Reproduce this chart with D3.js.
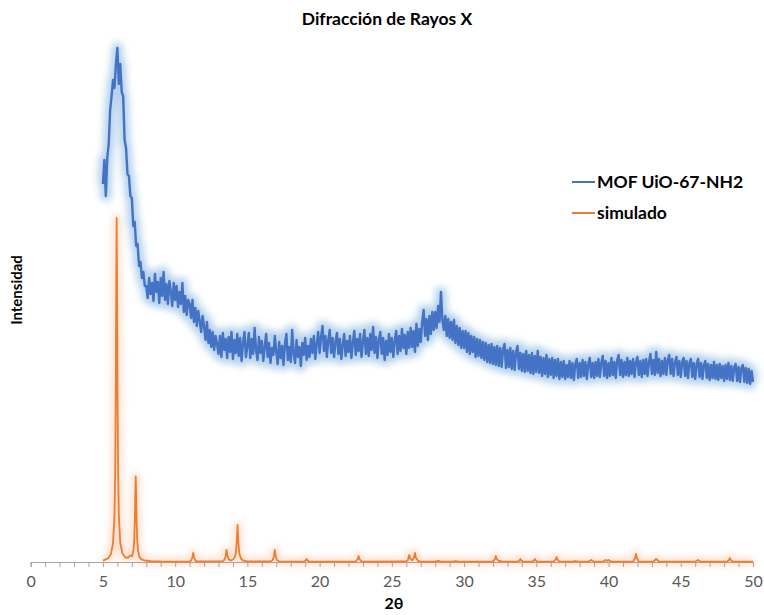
<!DOCTYPE html>
<html>
<head>
<meta charset="utf-8">
<script src="https://cdn.jsdelivr.net/npm/d3@7"></script>
<style>
  body { margin: 0; background: #fff; }
  svg text { font-family: Lato, "Open Sans", sans-serif; }
</style>
</head>
<body>
<svg id="chart" width="764" height="615"></svg>
<script>
// measured sample: 2θ from 5.0 to 50.0, step 0.1 (arbitrary intensity units)
var mofStart = 5.0, mofStep = 0.1;
var mofValues = [
  378, 402, 366, 404, 418, 452, 466, 482, 474, 498,
  514, 478, 498, 470, 466, 422, 414, 388, 386, 366,
  364, 336, 340, 316, 318, 296, 300, 284, 290, 276,
  276, 264, 284, 268, 279, 261, 288, 270, 280, 259,
  284, 266, 290, 262, 278, 258, 281, 270, 256, 279,
  262, 276, 255, 270, 258, 279, 250, 266, 247, 262,
  258, 244, 262, 240, 254, 236, 251, 241, 230, 246,
  236, 222, 240, 219, 232, 215, 230, 212, 226, 218,
  208, 226, 205, 229, 212, 223, 204, 225, 210, 230,
  203, 222, 209, 228, 206, 224, 201, 219, 230, 205,
  216, 229, 204, 223, 208, 234, 212, 202, 225, 209,
  221, 201, 215, 228, 205, 219, 199, 214, 207, 226,
  210, 198, 220, 204, 216, 197, 218, 228, 202, 215,
  200, 232, 208, 199, 222, 205, 215, 196, 219, 207,
  224, 202, 216, 205, 223, 209, 226, 203, 218, 230,
  209, 225, 236, 211, 226, 205, 222, 232, 209, 224,
  205, 220, 229, 208, 223, 203, 217, 228, 206, 221,
  210, 226, 204, 219, 231, 207, 223, 211, 228, 205,
  220, 232, 208, 224, 206, 228, 212, 235, 209, 225,
  204, 222, 230, 208, 224, 202, 221, 207, 228, 210,
  224, 205, 221, 231, 208, 226, 211, 233, 214, 227,
  208, 230, 214, 234, 215, 231, 210, 238, 216, 233,
  220, 240, 252, 226, 243, 222, 246, 228, 250, 232,
  250, 234, 256, 240, 270, 242, 232, 246, 226, 243,
  224, 240, 222, 242, 219, 236, 217, 234, 214, 231,
  214, 231, 210, 229, 208, 226, 210, 225, 205, 223,
  206, 222, 204, 220, 202, 219, 200, 217, 199, 218,
  198, 215, 197, 216, 196, 214, 195, 213, 218, 194,
  212, 195, 214, 193, 211, 192, 210, 216, 193, 209,
  191, 208, 190, 211, 191, 207, 189, 209, 188, 206,
  190, 211, 189, 205, 186, 204, 188, 207, 185, 203,
  187, 204, 184, 202, 186, 203, 183, 200, 185, 201,
  183, 197, 185, 201, 184, 199, 182, 198, 203, 184,
  199, 185, 202, 186, 200, 183, 198, 204, 185, 199,
  184, 200, 186, 203, 185, 199, 206, 186, 201, 184,
  199, 186, 204, 187, 200, 184, 202, 207, 187, 202,
  185, 200, 187, 204, 186, 201, 188, 203, 185, 200,
  205, 187, 201, 185, 202, 188, 203, 186, 200, 208,
  188, 202, 187, 210, 189, 203, 186, 201, 188, 204,
  187, 202, 207, 188, 203, 186, 200, 205, 187, 201,
  185, 200, 204, 186, 201, 184, 199, 203, 185, 199,
  183, 198, 203, 185, 199, 183, 197, 201, 184, 198,
  182, 197, 184, 200, 183, 197, 182, 198, 184, 196,
  181, 197, 183, 199, 182, 196, 181, 195, 198, 181,
  195, 180, 194, 197, 180, 194, 179, 193, 178, 191,
  180
];

// simulated pattern: [2θ, intensity]
var simPoints = [
  [5.0, 1.4], [5.35, 3.6], [5.55, 7.8], [5.70, 19], [5.80, 47], [5.85, 91], [5.89, 172],
  [5.92, 275], [5.95, 344], [5.98, 275], [6.01, 172], [6.05, 91], [6.10, 47], [6.20, 19],
  [6.35, 8.5], [6.55, 4.5], [6.75, 4.5], [6.90, 6.5], [7.02, 5.8], [7.12, 12.6], [7.17, 23],
  [7.21, 43], [7.24, 68.5], [7.27, 85.7], [7.30, 68.5], [7.33, 42.5], [7.37, 23], [7.42, 12.4],
  [7.52, 5.4], [7.67, 2.6], [7.9, 1.5], [8.3, 0.8], [9.0, 0.5], [10.5, 0.4],
  [11.0, 0.6], [11.1, 1.3], [11.19, 4.5], [11.25, 9], [11.31, 4.5], [11.4, 1.3], [11.5, 0.6],
  [13.3, 0.9], [13.41, 2.2], [13.5, 6], [13.56, 12], [13.62, 6.2], [13.71, 2.5], [13.85, 1.5],
  [14.0, 2.5], [14.12, 4.5], [14.2, 9], [14.26, 19], [14.32, 37], [14.38, 19], [14.44, 9],
  [14.55, 3.5], [14.7, 1.5], [15.0, 0.7], [16.6, 0.7], [16.75, 1.7], [16.84, 6], [16.9, 12],
  [16.96, 6], [17.05, 1.7], [17.2, 0.7], [18.9, 0.3], [19.04, 1.5], [19.1, 3], [19.16, 1.5],
  [19.3, 0.3], [22.5, 0.4], [22.64, 3], [22.7, 6], [22.76, 3], [22.9, 0.4],
  [25.95, 0.5], [26.1, 1.5], [26.14, 3.5], [26.2, 7], [26.26, 3.8], [26.4, 1.6], [26.54, 4.6],
  [26.6, 9], [26.66, 4.5], [26.8, 1.2], [27.0, 0.4], [28.0, 0.3], [28.2, 1.2], [28.4, 0.3],
  [29.2, 0.3], [29.4, 1], [29.6, 0.3], [32.0, 0.4], [32.14, 3], [32.2, 6], [32.26, 3],
  [32.4, 0.8], [32.5, 1.2], [32.6, 0.4], [33.7, 0.3], [33.84, 1.5], [33.9, 3], [33.96, 1.5],
  [34.1, 0.3], [34.7, 0.3], [34.84, 1.5], [34.9, 3], [34.96, 1.5], [35.1, 0.3],
  [36.2, 0.3], [36.34, 2.5], [36.4, 5], [36.46, 2.5], [36.6, 0.3], [37.5, 0.3], [37.7, 1],
  [37.9, 0.3], [38.6, 0.3], [38.8, 2], [39.0, 0.3], [39.6, 0.3], [39.8, 2], [39.9, 1],
  [40.0, 2], [40.2, 0.3], [41.7, 0.4], [41.84, 4], [41.9, 8], [41.96, 4], [42.1, 0.4],
  [43.1, 0.3], [43.3, 3], [43.5, 0.3], [46.0, 0.3], [46.2, 2], [46.4, 0.3], [48.2, 0.3],
  [48.34, 2], [48.4, 4], [48.46, 2], [48.6, 0.3], [50.0, 0.3]
];

var xTicks = [0, 5, 10, 15, 20, 25, 30, 35, 40, 45, 50];
var seriesNames = ["MOF UiO-67-NH2", "simulado"];
var seriesColors = ["#4472C4", "#ED7D31"];
var glowColors = ["#9DC3E6", "#F8CBAD"];

var svg = d3.select("#chart");

var x = d3.scaleLinear().domain([0, 50]).range([30.7, 753]);
var y = d3.scaleLinear().domain([0, 520]).range([562, 42]);

var defs = svg.append("defs");
defs.append("filter").attr("id", "glow")
  .attr("x", "-10%").attr("y", "-10%").attr("width", "120%").attr("height", "120%")
  .append("feGaussianBlur").attr("stdDeviation", 3.5);

var mofData = mofValues.map(function(v, i) { return [mofStart + i * mofStep, v]; });

var line = d3.line()
  .x(function(d) { return x(d[0]); })
  .y(function(d) { return y(d[1]); });

// glows
svg.append("path").datum(simPoints)
  .attr("d", line).attr("fill", "none")
  .attr("stroke", glowColors[1]).attr("stroke-width", 8).attr("opacity", 0.6)
  .attr("stroke-linejoin", "round")
  .attr("filter", "url(#glow)");
svg.append("path").datum(mofData)
  .attr("d", line).attr("fill", "none")
  .attr("stroke", glowColors[0]).attr("stroke-width", 11).attr("opacity", 0.75)
  .attr("stroke-linejoin", "round")
  .attr("filter", "url(#glow)");

// axis
var axis = d3.axisBottom(x)
  .tickValues(d3.range(0, 51, 1))
  .tickSize(5)
  .tickFormat(function(d) { return xTicks.indexOf(d) >= 0 ? d : ""; })
  .tickPadding(9);

var gx = svg.append("g").attr("transform", "translate(0,562)").call(axis);
gx.select(".domain").attr("stroke", "#A6A6A6").attr("stroke-width", 1.2);
gx.selectAll(".tick line").attr("stroke", "#A6A6A6");
gx.selectAll(".tick text").attr("fill", "#595959")
  .style("font-size", "16px").style("font-family", "Lato, sans-serif");

// series
svg.append("path").datum(simPoints)
  .attr("d", line).attr("fill", "none")
  .attr("stroke", seriesColors[1]).attr("stroke-width", 1.8)
  .attr("stroke-linejoin", "round");
svg.append("path").datum(mofData)
  .attr("d", line).attr("fill", "none")
  .attr("stroke", seriesColors[0]).attr("stroke-width", 2.4)
  .attr("stroke-linejoin", "round");

// titles
svg.append("text").attr("x", 387).attr("y", 25)
  .attr("text-anchor", "middle").attr("font-weight", "bold")
  .attr("font-size", 17.5).attr("fill", "#000")
  .text("Difracción de Rayos X");

svg.append("text").attr("x", 394).attr("y", 609)
  .attr("text-anchor", "middle").attr("font-weight", "bold")
  .attr("font-size", 16).attr("fill", "#000")
  .text("2θ");

svg.append("text")
  .attr("transform", "translate(22,290) rotate(-90)")
  .attr("text-anchor", "middle").attr("font-weight", "bold")
  .attr("font-size", 15).attr("fill", "#000")
  .text("Intensidad");

// legend
var legend = svg.append("g").attr("transform", "translate(572,182)");
var items = legend.selectAll("g").data(seriesNames).enter().append("g")
  .attr("transform", function(d, i) { return "translate(0," + (i * 31) + ")"; });
items.append("line").attr("x1", 0).attr("x2", 23)
  .attr("stroke", function(d, i) { return seriesColors[i]; }).attr("stroke-width", 2);
items.append("text").attr("x", 25).attr("y", 6)
  .attr("font-weight", "bold").attr("font-size", 17.5).attr("fill", "#000")
  .text(function(d) { return d; });
</script>
</body>
</html>
